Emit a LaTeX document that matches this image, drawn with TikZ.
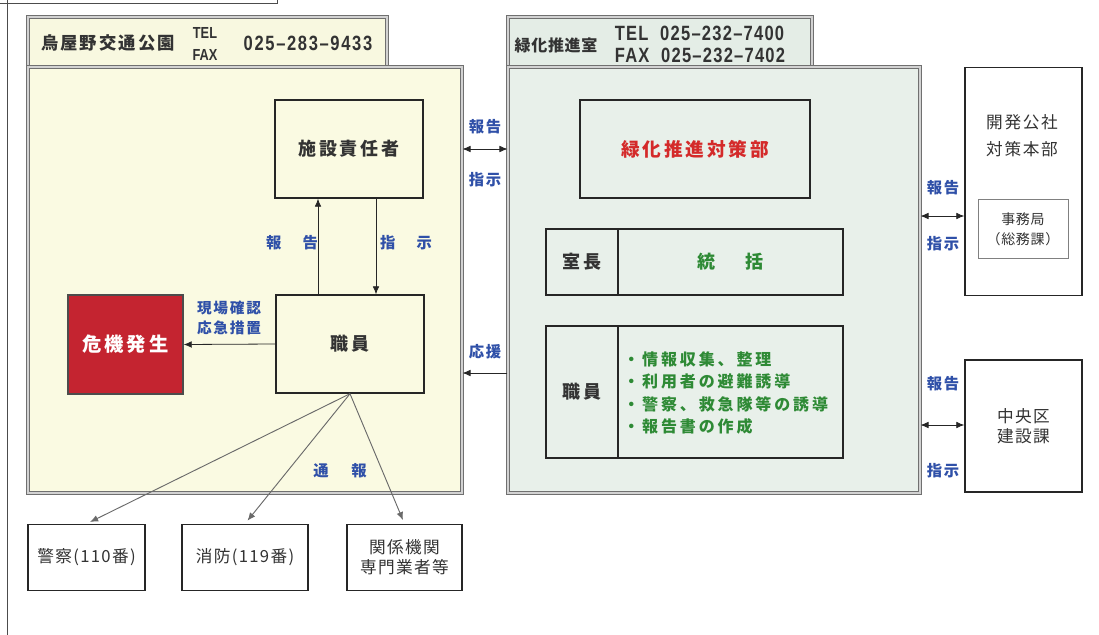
\documentclass[tikz,border=0pt]{standalone}
\usepackage{fontspec}
\setmainfont{Noto Sans CJK JP}
\newfontfamily\narrow{Liberation Sans}[FakeStretch=0.8]
\usetikzlibrary{arrows.meta}
\newcommand\lsp[1]{\addfontfeature{LetterSpace=#1}}
\definecolor{lpfill}{HTML}{FAFAE2}
\definecolor{tabL}{HTML}{F8F8E0}
\definecolor{rpfill}{HTML}{E8F0EA}
\definecolor{tabR}{HTML}{E4EDE6}
\definecolor{pborder}{HTML}{707070}
\definecolor{lblue}{HTML}{2F50A8}
\definecolor{kred}{HTML}{C42430}
\definecolor{rtext}{HTML}{D42A2A}
\definecolor{gtext}{HTML}{2E8A35}
\definecolor{fan}{HTML}{6A6A6A}
\definecolor{dtext}{HTML}{333333}
\begin{document}
\begin{tikzpicture}[x=0.75pt,y=-0.75pt,
  wh/.style 2 args={minimum width=#1*0.75pt, minimum height=#2*0.75pt},
  panel/.style={draw=pborder, line width=0.8pt, double=gray!35, double distance=0.8pt, inner sep=0pt},
  box/.style={draw=black!85, line width=1.1pt, inner sep=0pt, align=center, text=dtext,
    font=\bfseries\fontsize{13.5}{16}\selectfont\lsp{15}},
  wbox/.style={box, fill=white, font=\fontsize{12.5}{15}\selectfont\lsp{8}},
  lbl/.style={text=lblue, inner sep=0pt, align=center, font=\bfseries\fontsize{11.5}{15}\selectfont\lsp{12}},
  arr/.style={-{Latex[length=6pt,width=5pt]}, line width=0.6pt, black!85},
  darr/.style={{Latex[length=6pt,width=5pt]}-{Latex[length=6pt,width=5pt]}, line width=0.6pt, black!85},
  fanline/.style={-{Latex[length=6pt,width=5pt]}, line width=0.7pt, fan}
]
\useasboundingbox (0,0) rectangle (1099,635);
\fill[white] (0,0) rectangle (1099,635);
% outer frame fragments
\draw[gray!60!black, line width=0.5pt] (0,3) -- (277,3) -- (277,0);
\draw[gray!60!black, line width=0.6pt] (7,0) -- (7,635);

% panels
\node[panel, fill=tabL, wh={359}{50}] (lptab) at (207.5,42) {};
\node[panel, fill=lpfill, wh={434}{426}] (lp) at (245,280) {};
\node[panel, fill=tabR, wh={304}{50}] (rptab) at (660,42) {};
\node[panel, fill=rpfill, wh={412}{426}] (rp) at (714,280) {};

% tab texts
\node[text=dtext, font=\bfseries\fontsize{13}{16}\selectfont\lsp{12}] (lpname) at (108,43) {烏屋野交通公園};
\node[text=dtext, align=center, inner sep=0pt, font=\narrow\bfseries\fontsize{12}{16.5}\selectfont] (lptel) at (205,44) {TEL\\FAX};
\node[text=dtext, inner sep=0pt, font=\narrow\bfseries\fontsize{15.5}{17}\selectfont\lsp{8}] (lpnum) at (308,43) {025–283–9433};
\node[text=dtext, font=\bfseries\fontsize{12}{16}\selectfont\lsp{4}] (rpname) at (556,45) {緑化推進室};
\node[text=dtext, align=left, inner sep=0pt, font=\narrow\bfseries\fontsize{15.5}{16.5}\selectfont\lsp{6}] (rptel) at (700,44) {TEL\ \ 025–232–7400\\FAX\ \ 025–232–7402};

% left panel boxes
\node[box, wh={148}{98}] (sek) at (349,149) {施設責任者};
\node[box, wh={148}{98}] (shokuL) at (350,344) {職員};
\node[box, fill=kred, draw=black!70, text=white, wh={115}{99}, font=\bfseries\fontsize{14.5}{17}\selectfont\lsp{15}] (kiki) at (125.5,344.5) {危機発生};

% bottom boxes
\node[wbox, wh={117}{66}] (keisatsu) at (86.5,557.5) {警察(110番)};
\node[wbox, wh={126}{66}] (shobo) at (245,557.5) {消防(119番)};
\node[wbox, wh={115}{66}] (kankei) at (404.5,557.5) {関係機関\\専門業者等};

% right panel boxes
\node[box, wh={230}{98}, text=rtext, font=\bfseries\fontsize{14}{17}\selectfont\lsp{15}] (ryoku) at (695,149) {緑化推進対策部};
\node[box, wh={72}{66}] (shitsucho) at (582,262) {室長};
\node[box, wh={225}{66}, text=gtext] (tokatsu) at (730.5,262) {統\hspace{22pt}括};
\node[box, wh={72}{132}] (shokuR) at (582,392) {職員};
\node[box, wh={225}{132}] (tasks) at (730.5,392) {};
\node[anchor=west, text=gtext, align=left, inner sep=0pt, font=\bfseries\fontsize{12}{16.9}\selectfont\lsp{18}] (tasktext) at (623,393) {・情報収集、整理\\・利用者の避難誘導\\・警察、救急隊等の誘導\\・報告書の作成};

% far right
\node[wbox, wh={117}{228}] (kaihatsu) at (1023.5,181.5) {};
\node[text=dtext, align=center, inner sep=0pt, font=\fontsize{12.5}{20}\selectfont\lsp{10}] (kaihatsutext) at (1022,136) {開発公社\\対策本部};
\node[draw=gray, line width=0.5pt, fill=white, align=center, inner sep=0pt, text=dtext, wh={90}{59}, font=\fontsize{10.5}{15}\selectfont\lsp{5}] (jimu) at (1023,229) {事務局\\（総務課）};
\node[wbox, wh={117}{132}] (chuo) at (1023.5,426) {中央区\\建設課};

% helper coordinates
\coordinate (xu) at (318,0);
\coordinate (xd) at (376,0);
\coordinate (yo) at (0,373);
\coordinate (yk) at (0,216);
\coordinate (yc) at (0,425);

% connectors
\draw[arr] (shokuL.north -| xu) -- (sek.south -| xu);
\draw[arr] (sek.south -| xd) -- (shokuL.north -| xd);
\draw[arr] (shokuL.west) -- (kiki.east);
\draw[fanline, shorten >=3pt] (shokuL.south) -- (keisatsu.north);
\draw[fanline, shorten >=3pt] (shokuL.south) -- (shobo.north);
\draw[fanline, shorten >=3pt] (shokuL.south) -- (kankei.north);
\draw[darr] (lp.east |- sek) -- (rp.west |- sek);
\draw[arr] (rp.west |- yo) -- (lp.east |- yo);
\draw[darr] (rp.east |- yk) -- (kaihatsu.west |- yk);
\draw[darr] (rp.east |- yc) -- (chuo.west |- yc);

% labels
\node[lbl] (l1) at (485,127) {報告};
\node[lbl] (l2) at (485,180) {指示};
\node[lbl] (l3) at (485,352) {応援};
\node[lbl] (l4) at (943,188) {報告};
\node[lbl] (l5) at (943,244) {指示};
\node[lbl] (l6) at (943,384) {報告};
\node[lbl] (l7) at (943,471) {指示};
\node[lbl] (l8) at (292,243) {報\hspace{16pt}告};
\node[lbl] (l9) at (406,243) {指\hspace{16pt}示};
\node[lbl] (l10) at (340,471) {通\hspace{17pt}報};
\node[lbl, font=\bfseries\fontsize{11}{15}\selectfont\lsp{12}] (l11) at (229,318) {現場確認\\応急措置};
\end{tikzpicture}
\end{document}
